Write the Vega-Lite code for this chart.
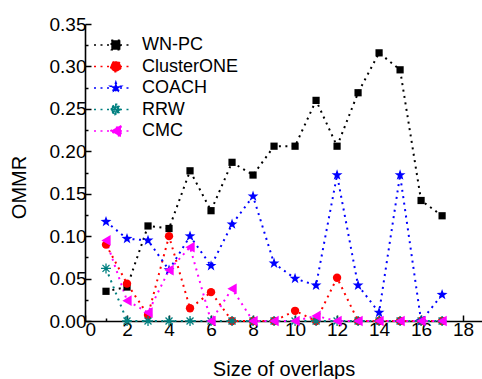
{
  "$schema": "https://vega.github.io/schema/vega-lite/v6.json",
  "width": 397,
  "height": 297,
  "autosize": {"type": "none"},
  "padding": {"left": 85, "top": 24, "right": 0, "bottom": 58},
  "background": "white",
  "config": {
    "view": {"stroke": null},
    "font": "Liberation Sans",
    "axis": {
      "domainColor": "black", "domainWidth": 1.6, "tickColor": "black", "tickWidth": 1.5,
      "labelColor": "black", "labelFont": "Liberation Sans", "labelFontSize": 19,
      "titleColor": "black", "titleFont": "Liberation Sans", "titleFontSize": 20, "titleFontWeight": "normal",
      "grid": false, "labelOverlap": false
    }
  },
  "data": {"values": [
    {"x":1,"s":"WN-PC","v":0.035},{"x":2,"s":"WN-PC","v":0.040},{"x":3,"s":"WN-PC","v":0.112},{"x":4,"s":"WN-PC","v":0.109},{"x":5,"s":"WN-PC","v":0.177},{"x":6,"s":"WN-PC","v":0.130},{"x":7,"s":"WN-PC","v":0.187},{"x":8,"s":"WN-PC","v":0.172},{"x":9,"s":"WN-PC","v":0.206},{"x":10,"s":"WN-PC","v":0.206},{"x":11,"s":"WN-PC","v":0.260},{"x":12,"s":"WN-PC","v":0.206},{"x":13,"s":"WN-PC","v":0.269},{"x":14,"s":"WN-PC","v":0.316},{"x":15,"s":"WN-PC","v":0.296},{"x":16,"s":"WN-PC","v":0.142},{"x":17,"s":"WN-PC","v":0.124},
    {"x":1,"s":"ClusterONE","v":0.090},{"x":2,"s":"ClusterONE","v":0.044},{"x":3,"s":"ClusterONE","v":0.007},{"x":4,"s":"ClusterONE","v":0.100},{"x":5,"s":"ClusterONE","v":0.015},{"x":6,"s":"ClusterONE","v":0.034},{"x":7,"s":"ClusterONE","v":0},{"x":8,"s":"ClusterONE","v":0},{"x":9,"s":"ClusterONE","v":0},{"x":10,"s":"ClusterONE","v":0.012},{"x":11,"s":"ClusterONE","v":0},{"x":12,"s":"ClusterONE","v":0.051},{"x":13,"s":"ClusterONE","v":0},{"x":14,"s":"ClusterONE","v":0},{"x":15,"s":"ClusterONE","v":0},{"x":16,"s":"ClusterONE","v":0},{"x":17,"s":"ClusterONE","v":0},
    {"x":1,"s":"COACH","v":0.117},{"x":2,"s":"COACH","v":0.097},{"x":3,"s":"COACH","v":0.095},{"x":4,"s":"COACH","v":0.060},{"x":5,"s":"COACH","v":0.100},{"x":6,"s":"COACH","v":0.065},{"x":7,"s":"COACH","v":0.114},{"x":8,"s":"COACH","v":0.147},{"x":9,"s":"COACH","v":0.068},{"x":10,"s":"COACH","v":0.050},{"x":11,"s":"COACH","v":0.042},{"x":12,"s":"COACH","v":0.172},{"x":13,"s":"COACH","v":0.042},{"x":14,"s":"COACH","v":0.010},{"x":15,"s":"COACH","v":0.172},{"x":16,"s":"COACH","v":0},{"x":17,"s":"COACH","v":0.031},
    {"x":1,"s":"RRW","v":0.062},{"x":2,"s":"RRW","v":0},{"x":3,"s":"RRW","v":0},{"x":4,"s":"RRW","v":0},{"x":5,"s":"RRW","v":0},{"x":6,"s":"RRW","v":0},{"x":7,"s":"RRW","v":0},{"x":8,"s":"RRW","v":0},{"x":9,"s":"RRW","v":0},{"x":10,"s":"RRW","v":0},{"x":11,"s":"RRW","v":0},{"x":12,"s":"RRW","v":0},{"x":13,"s":"RRW","v":0},{"x":14,"s":"RRW","v":0},{"x":15,"s":"RRW","v":0},{"x":16,"s":"RRW","v":0},{"x":17,"s":"RRW","v":0},
    {"x":1,"s":"CMC","v":0.095},{"x":2,"s":"CMC","v":0.024},{"x":3,"s":"CMC","v":0.010},{"x":4,"s":"CMC","v":0.060},{"x":5,"s":"CMC","v":0.087},{"x":6,"s":"CMC","v":0},{"x":7,"s":"CMC","v":0.038},{"x":8,"s":"CMC","v":0},{"x":9,"s":"CMC","v":0},{"x":10,"s":"CMC","v":0},{"x":11,"s":"CMC","v":0.006},{"x":12,"s":"CMC","v":0},{"x":13,"s":"CMC","v":0},{"x":14,"s":"CMC","v":0},{"x":15,"s":"CMC","v":0},{"x":16,"s":"CMC","v":0},{"x":17,"s":"CMC","v":0}
  ]},
  "encoding": {
    "x": {
      "field": "x", "type": "quantitative",
      "scale": {"domain": [0, 18.9], "nice": false, "zero": false},
      "axis": {
        "title": "Size of overlaps",
        "values": [0,1,2,3,4,5,6,7,8,9,10,11,12,13,14,15,16,17,18],
        "labelExpr": "datum.value % 2 == 0 ? datum.label : ''",
        "tickSize": {"condition": {"test": "datum.value % 2 == 0", "value": -6}, "value": -3},
        "labelPadding": 5,
        "titleX": 198.5, "titleY": 54, "titleBaseline": "alphabetic", "titleAlign": "center"
      }
    },
    "y": {
      "field": "v", "type": "quantitative",
      "scale": {"domain": [0, 0.35], "nice": false},
      "axis": {
        "title": "OMMR",
        "values": [0,0.025,0.05,0.075,0.1,0.125,0.15,0.175,0.2,0.225,0.25,0.275,0.3,0.325,0.35],
        "labelExpr": "round(datum.value*1000) % 50 == 0 ? format(datum.value, '.2f') : ''",
        "tickSize": {"condition": {"test": "round(datum.value*1000) % 50 == 0", "value": -6}, "value": -3},
        "labelPadding": 5,
        "titleX": -66, "titleY": 163, "titleBaseline": "middle", "titleAlign": "center", "titleAngle": -90
      }
    },
    "color": {"field": "s", "type": "nominal",
      "scale": {"domain": ["WN-PC","ClusterONE","COACH","RRW","CMC"], "range": ["#000000","#FF0000","#0000FF","#008080","#FF00FF"]},
      "legend": {
        "orient": "none", "legendX": 17, "legendY": 10, "title": null,
        "labelFontSize": 18, "labelFont": "Liberation Sans", "labelColor": "black",
        "symbolSize": 400, "labelOffset": 18, "rowPadding": 1.5, "symbolStrokeWidth": 1.6, "symbolDash": [2, 4.5],
        "symbolOpacity": 1,
        "encode": {"symbols": {"update": {
          "shape": {"signal": "datum.value === 'WN-PC' ? 'M-1.9,0L1.9,0M-0.17,-0.475L0.74,-0.475L0.74,0.475L-0.17,0.475Z' : datum.value === 'ClusterONE' ? 'M-1.9,0L1.9,0M-0.23,0A0.513,0.513,0,1,0,0.8,0A0.513,0.513,0,1,0,-0.23,0Z' : datum.value === 'COACH' ? 'M-1.9,0L1.9,0M0.285,-0.57L0.418,-0.184L0.827,-0.177L0.502,0.07L0.619,0.462L0.285,0.228L-0.049,0.462L0.068,0.07L-0.257,-0.177L0.152,-0.184Z' : datum.value === 'RRW' ? 'M-1.9,0L1.9,0M-0.23,-0.076L0.8,-0.076L0.8,0.076L-0.23,0.076ZM0.209,-0.513L0.361,-0.513L0.361,0.513L0.209,0.513ZM-0.019,-0.418L0.703,0.304L0.589,0.418L-0.133,-0.304ZM-0.019,0.418L0.703,-0.304L0.589,-0.418L-0.133,0.304Z' : 'M-1.9,0L1.9,0M-0.266,0L0.798,-0.608L0.798,0.608Z'"},
          "size": {"value": 400},
          "fill": {"scale": "color", "field": "value"},
          "stroke": {"scale": "color", "field": "value"},
          "strokeDash": {"value": [2, 4.5]},
          "strokeWidth": {"value": 1.6},
          "opacity": {"value": 1}
        }}}
      }
    }
  },
  "layer": [
    {
      "mark": {"type": "line", "strokeDash": [2, 4.5], "strokeWidth": 2, "strokeCap": "butt"},
      "encoding": {"detail": {"field": "s"}}
    },
    {
      "transform": [{"filter": "datum.s === 'WN-PC'"}],
      "mark": {"type": "point", "shape": "square", "size": 52, "filled": true, "opacity": 1}
    },
    {
      "transform": [{"filter": "datum.s === 'ClusterONE'"}],
      "mark": {"type": "point", "shape": "circle", "size": 70, "filled": true, "opacity": 1}
    },
    {
      "transform": [{"filter": "datum.s === 'COACH'"}],
      "mark": {"type": "point", "shape": "M0,-1L0.235,-0.324L0.951,-0.309L0.38,0.124L0.588,0.809L0,0.4L-0.588,0.809L-0.38,0.124L-0.951,-0.309L-0.235,-0.324Z", "size": 130, "filled": true, "opacity": 1}
    },
    {
      "transform": [{"filter": "datum.s === 'RRW'"}],
      "mark": {"type": "point", "shape": "M-1,0L1,0M0,-1L0,1M-0.7,-0.7L0.7,0.7M-0.7,0.7L0.7,-0.7", "size": 100, "filled": false, "strokeWidth": 1.3, "opacity": 1}
    },
    {
      "transform": [{"filter": "datum.s === 'CMC'"}],
      "mark": {"type": "point", "shape": "triangle-left", "size": 115, "filled": true, "opacity": 1}
    }
  ]
}
